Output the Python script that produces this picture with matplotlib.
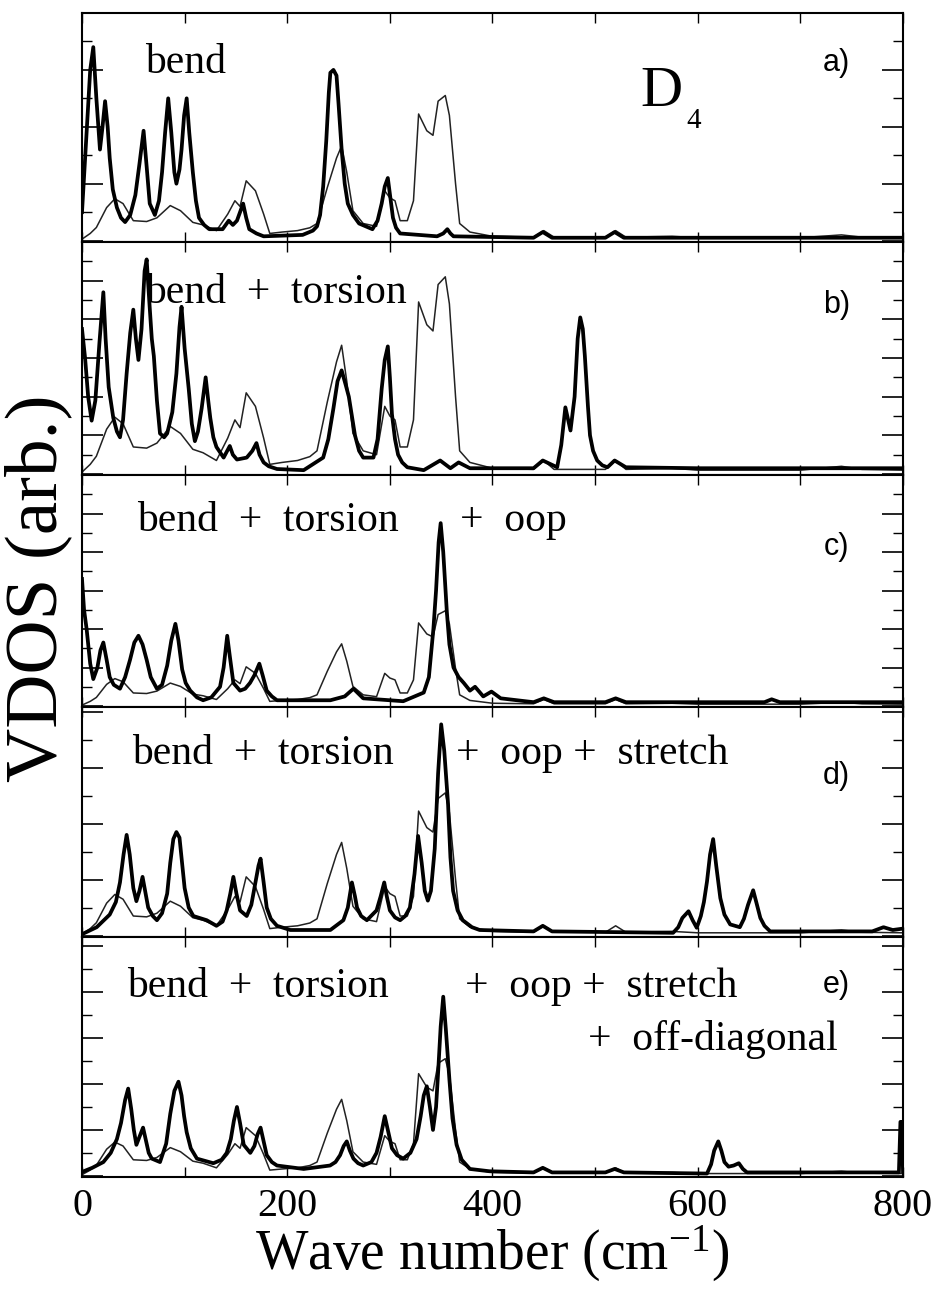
import matplotlib
matplotlib.use("Agg")
import matplotlib.pyplot as plt
import matplotlib.transforms as mtransforms
from matplotlib.ticker import MultipleLocator

plt.rcParams["mathtext.fontset"] = "custom"
plt.rcParams["mathtext.rm"] = "Liberation Serif"
plt.rcParams["mathtext.it"] = "Liberation Serif:italic"

# ------------------------------------------------
# data (wave number in cm-1, VDOS in tick units)
# ------------------------------------------------

# thin curve (reference spectrum), same shape in every panel
ref_x = [0, 8, 14, 24, 32, 40, 50, 63, 73, 86, 96, 108, 118, 131, 142, 149, 154,
         160, 169, 177, 183, 195, 210, 222, 229, 239, 248, 253, 258, 264, 274, 287,
         295, 300, 305, 310, 317, 323, 328, 336, 342, 347, 354, 358, 364, 368, 378,
         400, 440, 450, 460, 510, 520, 530, 575, 600, 700, 740, 760, 800]
ref_y = [0.05, 0.25, 0.46, 1.16, 1.47, 1.3, 0.7, 0.67, 0.8, 1.23, 1.05, 0.64, 0.55,
         0.35, 0.93, 1.4, 1.2, 2.1, 1.75, 0.93, 0.25, 0.3, 0.35, 0.45, 0.6, 1.86, 2.9,
         3.33, 2.4, 1.05, 0.6, 0.5, 1.75, 1.5, 1.4, 0.7, 0.7, 1.4, 4.45, 3.86, 3.7,
         4.9, 5.1, 4.4, 2.0, 0.6, 0.3, 0.15, 0.12, 0.35, 0.12, 0.12, 0.35, 0.12, 0.15,
         0.1, 0.1, 0.2, 0.12, 0.1]
ref_scale = [1.0, 2.0, 0.97, 1.0, 1.0]

# a) bend
bend_x = [0, 4, 8, 11, 14, 17.5, 20, 22.5, 25, 27, 30, 34, 38, 42, 47, 52, 56, 60,
          63, 66, 71, 75, 78, 81, 84, 87, 90, 92, 95, 97, 99.5, 102, 104.5, 108, 111,
          114, 119, 124, 137, 143, 147, 151, 154, 157, 160, 163, 170, 177, 215, 225,
          229, 232, 235, 238, 240.5, 242, 245, 248, 250, 253, 256, 259, 264, 270, 283,
          288, 292, 295, 298, 300.5, 303, 306, 310, 346, 352, 356, 359, 362, 440, 449,
          458, 510, 519, 528, 600, 800]
bend_y = [1.0, 3.5, 6.0, 6.8, 5.0, 3.2, 4.0, 4.9, 4.0, 2.9, 1.8, 1.16, 0.8, 0.65,
          0.9, 1.6, 2.7, 3.86, 2.6, 1.3, 0.9, 1.4, 2.4, 3.8, 5.0, 3.8, 2.4, 2.0, 2.5,
          3.2, 4.4, 5.0, 3.8, 2.4, 1.4, 0.8, 0.55, 0.4, 0.4, 0.7, 0.55, 0.7, 1.0, 1.3,
          0.8, 0.4, 0.25, 0.15, 0.2, 0.35, 0.5, 0.9, 1.9, 3.5, 5.2, 5.9, 6.0, 5.8, 4.8,
          3.2, 2.0, 1.3, 0.9, 0.6, 0.4, 0.7, 1.3, 1.9, 2.2, 1.5, 0.8, 0.45, 0.25, 0.15,
          0.25, 0.4, 0.25, 0.15, 0.1, 0.3, 0.1, 0.1, 0.3, 0.1, 0.1, 0.1]

# b) bend + torsion
tors_x = [0, 3, 6, 9.4, 13, 17, 20.8, 23, 26, 30.5, 34, 37, 40, 43.5, 47, 50, 52.5,
          55, 58, 61, 63, 65.5, 68, 70, 73, 76, 80, 83, 88, 92, 95, 97, 100, 104, 107,
          110, 113, 116.6, 120.5, 123, 125, 128, 131, 138, 144, 147, 151, 160.5, 166,
          170, 173, 177, 182, 190, 216, 235, 240, 245, 249, 253, 257, 260, 263, 266,
          270, 274, 284, 288, 292, 295, 298, 300, 302, 305, 308, 312, 317, 333, 349,
          359, 367, 378, 440, 449, 463, 467, 471, 476, 480, 483, 485.5, 488, 490, 493,
          495, 498, 502, 507, 512, 519, 530, 600, 800]
tors_y = [7.5, 6.0, 4.0, 2.76, 3.8, 6.8, 9.4, 7.0, 4.5, 2.9, 2.2, 1.9, 2.8, 5.2, 7.3,
          8.5, 7.0, 5.9, 7.5, 10.5, 11.1, 9.0, 7.0, 6.1, 3.8, 2.1, 1.9, 2.1, 3.2, 5.2,
          7.6, 8.65, 6.5, 4.4, 2.6, 1.7, 2.2, 3.4, 5.0, 3.8, 2.9, 1.9, 1.4, 0.85, 1.45,
          1.0, 0.75, 0.85, 1.2, 1.6, 1.0, 0.6, 0.4, 0.26, 0.2, 0.85, 1.8, 3.4, 4.8,
          5.36, 4.6, 4.0, 3.0, 2.0, 1.2, 0.85, 0.85, 1.8, 4.4, 5.9, 6.6, 5.0, 3.1, 1.8,
          1.0, 0.6, 0.35, 0.2, 0.7, 0.3, 0.6, 0.3, 0.3, 0.7, 0.35, 1.5, 3.45, 2.25,
          4.0, 7.0, 8.1, 7.5, 6.1, 3.5, 2.0, 1.2, 0.7, 0.45, 0.35, 0.7, 0.35, 0.3, 0.3]

# c) bend + torsion + oop
oop_x = [0, 2, 4.5, 8, 11, 15, 18, 20.8, 24, 27, 31, 37, 42, 46.8, 51, 55, 59, 63,
         67, 73, 78, 83, 87, 91, 94, 97.6, 101, 105.5, 112, 118, 126, 134.5, 138,
         141.5, 144, 147.5, 154, 159, 163.7, 168, 172.8, 176, 180, 185, 190, 242,
         256, 264.5, 274, 313, 333, 338, 342.4, 345, 347.5, 349.5, 352, 355.5, 358,
         362, 367, 372, 378, 383, 391, 399, 408, 440, 450, 460, 510, 520, 530, 665,
         672, 680, 800]
oop_y = [6.6, 5.0, 4.0, 2.2, 1.4, 2.0, 2.9, 3.3, 2.4, 1.5, 1.1, 0.9, 1.5, 2.4, 3.3,
         3.65, 3.2, 2.4, 1.5, 0.9, 1.1, 2.1, 3.4, 4.27, 3.4, 1.9, 1.2, 0.8, 0.45, 0.3,
         0.45, 1.0, 2.0, 3.65, 2.6, 1.2, 0.8, 0.9, 1.2, 1.6, 2.2, 1.6, 0.8, 0.5, 0.3,
         0.3, 0.5, 0.9, 0.4, 0.25, 0.7, 1.5, 4.0, 6.0, 8.5, 9.5, 8.0, 4.9, 3.2, 2.0,
         1.5, 1.2, 0.8, 1.0, 0.5, 0.75, 0.4, 0.2, 0.4, 0.2, 0.2, 0.4, 0.2, 0.2, 0.35,
         0.2, 0.2]

# d) bend + torsion + oop + stretch
str_x = [0, 14.3, 27, 33, 37, 40.5, 43.5, 46.5, 50, 53, 56, 59, 61.5, 64.5, 69, 73,
         78, 83, 86, 89, 92, 95, 97.5, 100, 104, 108.5, 121.5, 131, 137, 141, 144.5,
         147.5, 150.5, 154, 160.5, 165, 169, 172, 174, 177, 180, 184, 190, 203, 242,
         254.7, 259, 263, 266, 268, 272, 277.6, 287, 291, 294.5, 297, 300, 305, 310,
         315, 319.5, 324, 327.5, 331, 334, 337, 340, 343.7, 347, 350, 353, 356.7, 359,
         361.6, 366, 371, 380, 387.5, 440, 449, 458, 576, 581, 585, 591, 595, 599,
         603, 606, 609, 612, 615, 618, 622, 626, 631.6, 641, 645, 649, 654, 657, 661,
         665, 670.6, 770, 781, 790, 800]
str_y = [0.05, 0.3, 0.75, 1.2, 1.9, 2.9, 3.6, 2.9, 1.7, 1.23, 1.6, 2.1, 1.6, 1.0,
         0.7, 0.55, 0.8, 1.5, 2.6, 3.45, 3.7, 3.5, 2.6, 1.7, 1.0, 0.7, 0.55, 0.35,
         0.5, 0.9, 1.5, 2.1, 1.5, 0.9, 0.7, 1.1, 1.9, 2.5, 2.75, 1.9, 1.0, 0.6, 0.35,
         0.2, 0.2, 0.55, 1.0, 1.9, 1.4, 1.0, 0.7, 0.55, 0.9, 1.4, 1.9, 1.4, 0.9, 0.65,
         0.55, 0.7, 1.0, 2.2, 3.56, 2.6, 1.6, 1.25, 1.6, 3.1, 5.8, 7.55, 6.6, 4.7, 2.8,
         1.6, 0.9, 0.55, 0.3, 0.2, 0.15, 0.35, 0.15, 0.1, 0.3, 0.63, 0.87, 0.55, 0.28,
         0.7, 1.2, 1.93, 2.9, 3.45, 2.5, 1.34, 0.75, 0.4, 0.3, 0.6, 1.1, 1.62, 1.2,
         0.63, 0.35, 0.15, 0.15, 0.3, 0.2, 0.25]

# e) ... + off-diagonal
off_x = [0, 10, 20.8, 28, 34, 38, 42, 45, 48, 50.5, 53, 56, 59.5, 62.5, 65, 68, 76,
         82, 86, 90, 94, 97, 99.5, 102, 106, 112, 128, 136, 141, 145, 148, 151, 154,
         157.6, 164, 168, 171, 174, 177, 180, 185, 190, 216, 241.7, 247, 251.5, 255,
         258, 261, 264.5, 269, 274, 282, 287, 291, 295, 298, 302, 307, 313, 320, 326,
         330, 333, 336, 339, 342, 345, 347, 349.5, 352, 354.5, 358, 361, 365, 370,
         378, 397, 440, 449, 458, 510, 519, 528, 609, 613, 616, 620, 623, 626, 630,
         635, 640, 644, 648, 796, 797.5, 799, 800]
off_y = [0.17, 0.35, 0.6, 1.0, 1.6, 2.3, 3.3, 3.8, 2.9, 2.0, 1.35, 1.7, 2.1, 1.5,
         1.0, 0.75, 0.6, 1.4, 2.7, 3.7, 4.1, 3.5, 2.6, 1.9, 1.2, 0.75, 0.55, 0.7, 1.0,
         1.6, 2.4, 3.0, 2.3, 1.35, 1.0, 1.3, 1.8, 2.1, 1.5, 0.9, 0.6, 0.45, 0.3, 0.45,
         0.6, 0.9, 1.3, 1.5, 1.1, 0.75, 0.55, 0.45, 0.6, 1.0, 1.7, 2.6, 2.0, 1.2, 0.9,
         0.75, 1.0, 1.6, 2.6, 3.5, 3.9, 3.0, 2.0, 3.0, 4.5, 6.5, 7.8, 6.4, 4.2, 2.5,
         1.35, 0.7, 0.3, 0.2, 0.15, 0.35, 0.15, 0.15, 0.3, 0.15, 0.1, 0.5, 1.1, 1.5,
         1.1, 0.6, 0.4, 0.45, 0.55, 0.3, 0.15, 0.15, 2.35, 2.35, 0.2]

model_x = [bend_x, tors_x, oop_x, str_x, off_x]
model_y = [bend_y, tors_y, oop_y, str_y, off_y]
panel_tags = ["a)", "b)", "c)", "d)", "e)"]
panel_top = [8.0, 12.0, 12.0, 8.17, 10.4]

# panel texts: (panel, x in cm-1, y in axes fraction, text)
panel_texts = [
    (0, 61, 0.74, "bend"),
    (1, 61, 0.737, "bend  +  torsion"),
    (2, 54, 0.76, "bend  +  torsion"),
    (2, 368, 0.76, "+  oop"),
    (3, 49, 0.754, "bend  +  torsion"),
    (3, 364, 0.754, "+  oop +  stretch"),
    (4, 44, 0.75, "bend  +  torsion"),
    (4, 373, 0.75, "+  oop +  stretch"),
    (4, 493, 0.53, "+  off-diagonal"),
]
tag_y = [0.78, 0.73, 0.69, 0.70, 0.80]

# ------------------------------------------------
# figure
# ------------------------------------------------
W, H = 940, 1293
fig = plt.figure(figsize=(W / 100, H / 100), dpi=100)
edges = [13, 242, 475, 707, 937, 1177]
left, right = 82, 903
serif = "Liberation Serif"

axes = []
for i in range(5):
    y0, y1 = edges[i], edges[i + 1]
    ax = fig.add_axes([left / W, 1 - y1 / H, (right - left) / W, (y1 - y0) / H])
    axes.append(ax)

    ax.plot(ref_x, [v * ref_scale[i] for v in ref_y], color="#222222", lw=1.1)
    ax.plot(model_x[i], model_y[i], color="black", lw=2.7, solid_joinstyle="round")

    ax.set_xlim(0, 800)
    ax.set_ylim(-0.05, panel_top[i])
    ax.xaxis.set_major_locator(MultipleLocator(200))
    ax.xaxis.set_minor_locator(MultipleLocator(100))
    ax.yaxis.set_major_locator(MultipleLocator(2))
    ax.yaxis.set_minor_locator(MultipleLocator(1))
    ax.tick_params(axis="y", which="major", direction="in", left=True, right=True,
                   length=15, width=1.2, labelleft=False)
    ax.tick_params(axis="y", which="minor", direction="in", left=True, right=True,
                   length=7, width=1.0)
    ax.tick_params(axis="x", which="both", direction="in", top=True, bottom=True,
                   length=7, width=1.0)
    for s in ax.spines.values():
        s.set_linewidth(1.5)

    trans = mtransforms.blended_transform_factory(ax.transData, ax.transAxes)
    for p, xv, yv, txt in panel_texts:
        if p == i:
            ax.text(xv, yv, txt, transform=trans, fontsize=30, family=serif,
                    ha="left", va="baseline")
    ax.text(735, tag_y[i], panel_tags[i], transform=trans, fontsize=22,
            family="Liberation Sans", ha="center", va="center")

    if i < 4:
        ax.tick_params(axis="x", labelbottom=False)

# D4 label in panel a
trans_a = mtransforms.blended_transform_factory(axes[0].transData, axes[0].transAxes)
axes[0].text(565, 0.655, "D", transform=trans_a, fontsize=42, family=serif,
             ha="center", va="center")
axes[0].text(596, 0.53, "4", transform=trans_a, fontsize=21, family=serif,
             ha="center", va="center")

ax = axes[-1]
ax.set_xticks([0, 200, 400, 600, 800])
ax.tick_params(axis="x", labelsize=29, pad=8)
for lab in ax.get_xticklabels():
    lab.set_family(serif)

fig.text(492 / W, 1 - 1254 / H, "Wave number (cm$^{-1}$)", fontsize=40,
         family=serif, ha="center", va="center")
fig.text(38 / W, 1 - 588 / H, "VDOS (arb.)", rotation=90, fontsize=54,
         family=serif, ha="center", va="center")

fig.savefig("out.png", dpi=100)
